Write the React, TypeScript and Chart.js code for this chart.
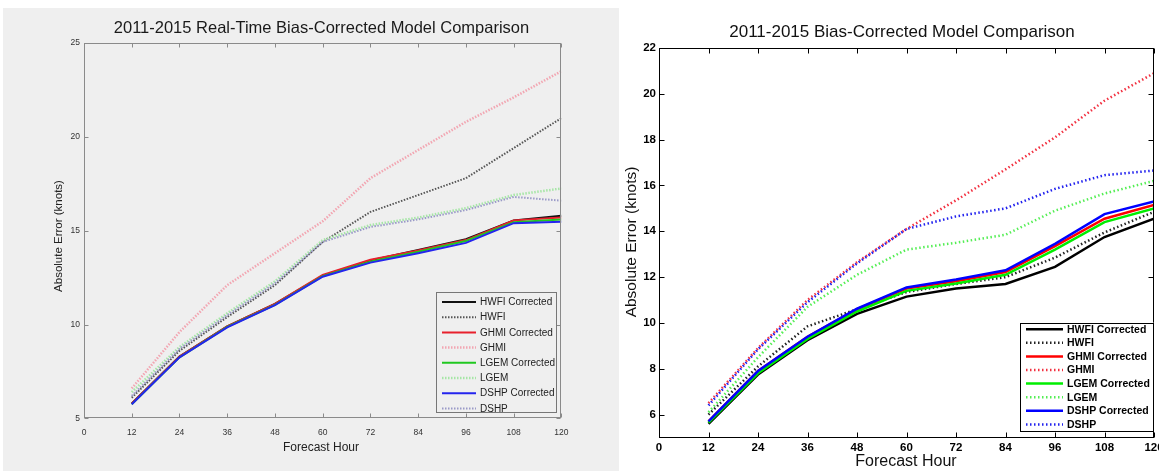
import React, { useEffect, useRef } from "react";
import { Chart, registerables } from "chart.js";

Chart.register(...registerables);

// ---------- shared data ----------
const hours = [12, 24, 36, 48, 60, 72, 84, 96, 108, 120];
const seriesNames = [
  "HWFI Corrected",
  "HWFI",
  "GHMI Corrected",
  "GHMI",
  "LGEM Corrected",
  "LGEM",
  "DSHP Corrected",
  "DSHP",
];
const xTicks = [0, 12, 24, 36, 48, 60, 72, 84, 96, 108, 120];

// ---------- left panel: 2011-2015 Real-Time Bias-Corrected Model Comparison ----------
const leftTitle = "2011-2015 Real-Time Bias-Corrected Model Comparison";
const leftYTicks = [5, 10, 15, 20, 25];
const rtHwfiCorrected = [5.8, 8.3, 9.9, 11.1, 12.6, 13.42, 13.97, 14.55, 15.55, 15.8];
const rtHwfi = [6.1, 8.6, 10.4, 12.1, 14.4, 16.0, 16.9, 17.8, 19.4, 21.0];
const rtGhmiCorrected = [5.8, 8.3, 9.9, 11.1, 12.65, 13.45, 13.95, 14.5, 15.55, 15.7];
const rtGhmi = [6.6, 9.6, 12.1, 13.8, 15.5, 17.8, 19.3, 20.8, 22.1, 23.5];
const rtLgemCorrected = [5.75, 8.25, 9.88, 11.05, 12.58, 13.35, 13.88, 14.45, 15.45, 15.6];
const rtLgem = [6.4, 8.8, 10.6, 12.3, 14.5, 15.3, 15.7, 16.2, 16.9, 17.25];
const rtDshpCorrected = [5.75, 8.25, 9.85, 11.03, 12.55, 13.3, 13.8, 14.35, 15.4, 15.48];
const rtDshp = [6.2, 8.7, 10.5, 12.2, 14.4, 15.2, 15.6, 16.1, 16.8, 16.6];

// ---------- right panel: 2011-2015 Bias-Corrected Model Comparison ----------
const rightTitle = "2011-2015 Bias-Corrected Model Comparison";
const rightYTicks = [6, 8, 10, 12, 14, 16, 18, 20, 22];
const bcHwfiCorrected = [5.6, 7.75, 9.25, 10.4, 11.15, 11.5, 11.7, 12.45, 13.75, 14.55];
const bcHwfi = [6.0, 8.1, 9.85, 10.6, 11.35, 11.7, 12.0, 12.85, 13.95, 14.85];
const bcGhmiCorrected = [5.7, 7.9, 9.4, 10.6, 11.5, 11.82, 12.22, 13.35, 14.55, 15.15];
const bcGhmi = [6.5, 8.9, 11.0, 12.65, 14.1, 15.35, 16.7, 18.1, 19.7, 20.9];
const bcLgemCorrected = [5.65, 7.8, 9.3, 10.5, 11.4, 11.72, 12.1, 13.2, 14.4, 15.0];
const bcLgem = [6.1, 8.5, 10.7, 12.1, 13.2, 13.5, 13.85, 14.9, 15.65, 16.2];
const bcDshpCorrected = [5.7, 7.9, 9.4, 10.62, 11.55, 11.9, 12.3, 13.45, 14.75, 15.3];
const bcDshp = [6.4, 8.85, 10.9, 12.6, 14.1, 14.65, 15.0, 15.85, 16.45, 16.65];

const FONT = "'Liberation Sans', Arial, Helvetica, sans-serif";

type Style = { color: string; width: number; dash: number[] };

const leftStyles: Style[] = [
  { color: "#111111", width: 2, dash: [] },
  { color: "#555555", width: 2, dash: [1.5, 1.5] },
  { color: "#e8202c", width: 2, dash: [] },
  { color: "#f2a6b2", width: 2.5, dash: [1.5, 1.5] },
  { color: "#20c820", width: 2, dash: [] },
  { color: "#a6e6a6", width: 2.5, dash: [1.5, 1.5] },
  { color: "#2424ee", width: 2, dash: [] },
  { color: "#9a9ac8", width: 2, dash: [1.5, 1.5] },
];

const rightStyles: Style[] = [
  { color: "#000000", width: 2.5, dash: [] },
  { color: "#222222", width: 2.5, dash: [1.5, 2.5] },
  { color: "#ff0000", width: 2.5, dash: [] },
  { color: "#f23040", width: 2.5, dash: [1.5, 2.5] },
  { color: "#00ee00", width: 2.5, dash: [] },
  { color: "#55ee55", width: 2.5, dash: [1.5, 2.5] },
  { color: "#0000ff", width: 2.5, dash: [] },
  { color: "#2020ee", width: 2.5, dash: [1.5, 2.5] },
];

const matlabPlugin = {
  id: "matlabFrame",
  beforeDraw(chart: any, _a: any, o: any) {
    const { ctx, width, height, chartArea: a } = chart;
    ctx.save();
    ctx.fillStyle = o.bg;
    ctx.fillRect(0, 0, width, height);
    ctx.fillStyle = o.axesBg;
    ctx.fillRect(a.left, a.top, a.right - a.left, a.bottom - a.top);
    ctx.restore();
  },
  afterDatasetsDraw(chart: any, _a: any, o: any) {
    const { ctx, chartArea: a, scales } = chart;
    ctx.save();
    ctx.strokeStyle = o.frameColor;
    ctx.lineWidth = 1;
    ctx.setLineDash([]);
    const L = Math.round(a.left) + 0.5;
    const R = Math.round(a.right) - 0.5;
    const T = Math.round(a.top) + 0.5;
    const B = Math.round(a.bottom) - 0.5;
    ctx.strokeRect(L, T, R - L, B - T);
    const tl = o.tickLen;
    ctx.beginPath();
    scales.x.ticks.forEach((t: any) => {
      const px = Math.round(scales.x.getPixelForValue(t.value)) + 0.5;
      ctx.moveTo(px, B);
      ctx.lineTo(px, B - tl);
      ctx.moveTo(px, T);
      ctx.lineTo(px, T + tl);
    });
    scales.y.ticks.forEach((t: any) => {
      const py = Math.round(scales.y.getPixelForValue(t.value)) + 0.5;
      ctx.moveTo(L, py);
      ctx.lineTo(L + tl, py);
      ctx.moveTo(R, py);
      ctx.lineTo(R - tl, py);
    });
    ctx.stroke();

    // legend inside the axes
    const lg = o.legend;
    const bx1 = a.right - lg.rightInset;
    const by1 = a.bottom - lg.bottomInset;
    const bx0 = bx1 - lg.w;
    const by0 = by1 - lg.h;
    ctx.fillStyle = lg.bg;
    ctx.fillRect(bx0, by0, lg.w, lg.h);
    ctx.strokeStyle = lg.border;
    ctx.lineWidth = 1;
    ctx.strokeRect(Math.round(bx0) + 0.5, Math.round(by0) + 0.5, Math.round(lg.w) - 1, Math.round(lg.h) - 1);
    ctx.font = lg.font;
    ctx.textBaseline = "middle";
    ctx.textAlign = "left";
    chart.data.datasets.forEach((ds: any, i: number) => {
      const y = by0 + lg.firstRow + i * lg.rowH;
      ctx.save();
      ctx.strokeStyle = ds.borderColor;
      ctx.lineWidth = ds.borderWidth;
      ctx.setLineDash(ds.borderDash || []);
      ctx.beginPath();
      ctx.moveTo(bx0 + lg.s0, y);
      ctx.lineTo(bx0 + lg.s1, y);
      ctx.stroke();
      ctx.restore();
      ctx.fillStyle = lg.color;
      ctx.fillText(ds.label, bx0 + lg.tx, y + 0.5);
    });

    // titles
    (o.texts || []).forEach((t: any) => {
      ctx.save();
      ctx.font = t.font;
      ctx.fillStyle = t.color;
      ctx.textAlign = "center";
      ctx.textBaseline = "middle";
      ctx.translate(t.x, t.y);
      if (t.rotate) ctx.rotate(-Math.PI / 2);
      ctx.fillText(t.text, 0, 0);
      ctx.restore();
    });
    ctx.restore();
  },
};

function makeConfig(p: any) {
  const datasets = p.series.map((vals: number[], i: number) => ({
    label: seriesNames[i],
    data: hours.map((h, j) => ({ x: h, y: vals[j] })),
    borderColor: p.styles[i].color,
    backgroundColor: p.styles[i].color,
    borderWidth: p.styles[i].width,
    borderDash: p.styles[i].dash,
    pointRadius: 0,
    tension: 0,
    fill: false,
    order: -i,
  }));
  return {
    type: "line",
    data: { datasets },
    plugins: [matlabPlugin],
    options: {
      animation: false,
      responsive: false,
      devicePixelRatio: 1,
      layout: { padding: p.padding },
      plugins: {
        legend: { display: false },
        title: { display: false },
        tooltip: { enabled: false },
        matlabFrame: p.frame,
      },
      scales: {
        x: {
          type: "linear",
          min: 0,
          max: 120,
          grid: { display: false, drawTicks: false },
          border: { display: false },
          afterBuildTicks: (s: any) => {
            s.ticks = xTicks.map((v) => ({ value: v }));
          },
          afterFit: (s: any) => {
            s.height = 20;
            s.paddingLeft = 0;
            s.paddingRight = 0;
          },
          ticks: {
            autoSkip: false,
            maxRotation: 0,
            padding: p.xTickPad,
            color: p.tickColor,
            font: p.tickFont,
          },
        },
        y: {
          type: "linear",
          min: p.yMin,
          max: p.yMax,
          grid: { display: false, drawTicks: false },
          border: { display: false },
          afterBuildTicks: (s: any) => {
            s.ticks = p.yTicks.map((v: number) => ({ value: v }));
          },
          afterFit: (s: any) => {
            s.width = 20;
            s.paddingTop = 0;
            s.paddingBottom = 0;
          },
          ticks: {
            autoSkip: false,
            padding: p.yTickPad,
            color: p.tickColor,
            font: p.tickFont,
          },
        },
      },
    },
  };
}

function Panel(props: { w: number; h: number; cfg: any }) {
  const ref = useRef<HTMLCanvasElement | null>(null);
  useEffect(() => {
    if (!ref.current) return;
    const chart = new Chart(ref.current, props.cfg);
    return () => chart.destroy();
  }, []);
  return <canvas ref={ref} width={props.w} height={props.h} style={{ display: "block", width: props.w, height: props.h }} />;
}

const leftCfg = makeConfig({
  series: [rtHwfiCorrected, rtHwfi, rtGhmiCorrected, rtGhmi, rtLgemCorrected, rtLgem, rtDshpCorrected, rtDshp],
  styles: leftStyles,
  yMin: 5,
  yMax: 25,
  yTicks: leftYTicks,
  padding: { left: 61, top: 35, right: 57.6, bottom: 32.6 },
  xTickPad: 9,
  yTickPad: 4,
  tickColor: "#333333",
  tickFont: { family: FONT, size: 8.5 },
  frame: {
    bg: "#efefef",
    axesBg: "#efefef",
    frameColor: "#8a8a8a",
    tickLen: 4,
    legend: {
      rightInset: 4.4,
      bottomInset: 5.4,
      w: 121,
      h: 121,
      firstRow: 10,
      rowH: 15.2,
      s0: 6,
      s1: 40,
      tx: 44,
      bg: "#efefef",
      border: "#777777",
      font: `10px ${FONT}`,
      color: "#222222",
    },
    texts: [
      { text: leftTitle, x: 318.5, y: 20, font: `16.5px ${FONT}`, color: "#1a1a1a" },
      { text: "Absolute Error (knots)", x: 55.5, y: 228, font: `11.5px ${FONT}`, color: "#222222", rotate: true },
      { text: "Forecast Hour", x: 318, y: 440, font: `12px ${FONT}`, color: "#222222" },
    ],
  },
});

const rightCfg = makeConfig({
  series: [bcHwfiCorrected, bcHwfi, bcGhmiCorrected, bcGhmi, bcLgemCorrected, bcLgem, bcDshpCorrected, bcDshp],
  styles: rightStyles,
  yMin: 5,
  yMax: 22,
  yTicks: rightYTicks,
  padding: { left: 20, top: 48, right: 5, bottom: 13.5 },
  xTickPad: 3.5,
  yTickPad: 3,
  tickColor: "#000000",
  tickFont: { family: FONT, size: 11.5, weight: "bold" },
  frame: {
    bg: "#ffffff",
    axesBg: "#ffffff",
    frameColor: "#000000",
    tickLen: 5,
    legend: {
      rightInset: 0,
      bottomInset: 5.8,
      w: 134,
      h: 109,
      firstRow: 6.5,
      rowH: 13.6,
      s0: 6,
      s1: 43,
      tx: 47,
      bg: "#ffffff",
      border: "#000000",
      font: `bold 10.5px ${FONT}`,
      color: "#000000",
    },
    texts: [
      { text: rightTitle, x: 283, y: 32, font: `17px ${FONT}`, color: "#111111" },
      { text: "Absolute Error (knots)", x: 13, y: 242, font: `15.5px ${FONT}`, color: "#111111", rotate: true },
      { text: "Forecast Hour", x: 287, y: 462, font: `16px ${FONT}`, color: "#111111" },
    ],
  },
});

export default function App() {
  return (
    <div style={{ position: "fixed", left: 0, top: 0, width: 1159, height: 471, background: "#ffffff", overflow: "hidden" }}>
      <div style={{ position: "absolute", left: 3, top: 8, width: 616, height: 463, background: "#efefef" }}>
        <Panel w={616} h={463} cfg={leftCfg} />
      </div>
      <div style={{ position: "absolute", left: 619, top: 0, width: 540, height: 471, background: "#ffffff" }}>
        <Panel w={540} h={471} cfg={rightCfg} />
      </div>
    </div>
  );
}
